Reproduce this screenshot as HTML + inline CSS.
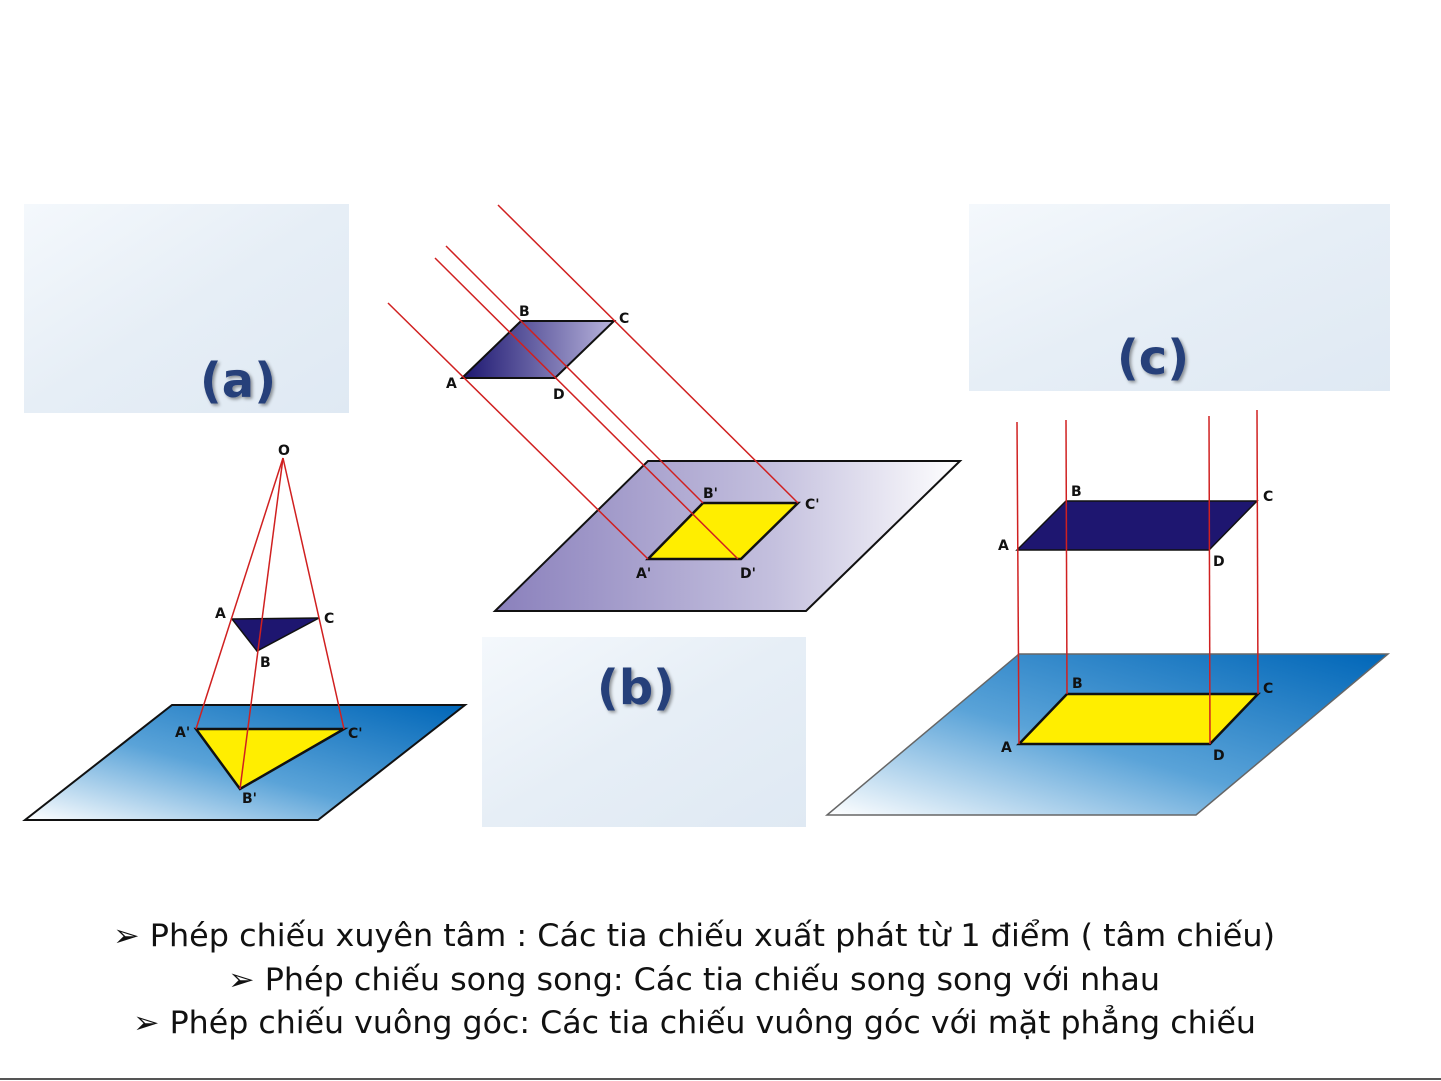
<!DOCTYPE html>
<html><head><meta charset="utf-8"><style>
html,body{margin:0;padding:0;background:#fff;width:1441px;height:1081px;overflow:hidden}
svg{display:block}
</style></head><body>
<svg width="1441" height="1081" viewBox="0 0 1441 1081" xmlns="http://www.w3.org/2000/svg">
<defs>
<linearGradient id="pan" x1="0" y1="0" x2="1" y2="1"><stop offset="0" stop-color="#f4f8fc"/><stop offset="0.5" stop-color="#e6eef6"/><stop offset="1" stop-color="#dfe9f3"/></linearGradient>
<linearGradient id="blue" x1="0" y1="1" x2="1" y2="0"><stop offset="0" stop-color="#ffffff"/><stop offset="0.45" stop-color="#5aa3d8"/><stop offset="1" stop-color="#0066b8"/></linearGradient>
<linearGradient id="purp" x1="0" y1="0.5" x2="1" y2="0.5"><stop offset="0" stop-color="#8a80bc"/><stop offset="0.6" stop-color="#c4c0de"/><stop offset="1" stop-color="#ffffff"/></linearGradient>
<linearGradient id="navy" x1="0" y1="0" x2="1" y2="0"><stop offset="0" stop-color="#1c1670"/><stop offset="1" stop-color="#b8b4dc"/></linearGradient>
<filter id="sh"><feDropShadow dx="2" dy="2" stdDeviation="1.5" flood-color="#000" flood-opacity="0.4"/></filter>
</defs>
<!-- label panels -->
<rect x="24" y="204" width="325" height="209" fill="url(#pan)"/>
<rect x="482" y="637" width="324" height="190" fill="url(#pan)"/>
<rect x="969" y="204" width="421" height="187" fill="url(#pan)"/>
<g font-family="DejaVu Sans, sans-serif" font-weight="bold" font-size="48" fill="#27407a" filter="url(#sh)" text-anchor="middle">
<text x="238" y="397">(a)</text>
<text x="636" y="704">(b)</text>
<text x="1153" y="374">(c)</text>
</g>
<g font-family="DejaVu Sans, sans-serif" font-weight="bold" font-size="14" fill="#111">
<!-- (a) -->
<polygon points="25,820 318,820 465,705 172,705" fill="url(#blue)" stroke="#111" stroke-width="2"/>
<polygon points="196,729 344,729 240,789" fill="#ffee00" stroke="#111" stroke-width="2.5"/>
<polygon points="232,619 319,618 257,651" fill="#1e1670" stroke="#111" stroke-width="1.5"/>
<g stroke="#d02020" stroke-width="1.5" fill="none">
<line x1="283" y1="458" x2="196" y2="729"/><line x1="283" y1="458" x2="240" y2="789"/><line x1="283" y1="458" x2="344" y2="729"/>
</g>
<text x="278" y="455">O</text><text x="215" y="618">A</text><text x="324" y="623">C</text><text x="260" y="667">B</text>
<text x="175" y="737">A'</text><text x="348" y="738">C'</text><text x="242" y="803">B'</text>
<!-- (b) -->
<polygon points="495,611 806,611 960,461 648,461" fill="url(#purp)" stroke="#111" stroke-width="2"/>
<polygon points="648,559 703,503 798,503 741,559" fill="#ffee00" stroke="#111" stroke-width="2.5"/>
<polygon points="462,378 521,321 614,321 555,378" fill="url(#navy)" stroke="#111" stroke-width="2"/>
<g stroke="#d02020" stroke-width="1.5" fill="none">
<line x1="388" y1="303" x2="648" y2="559"/><line x1="435" y1="258" x2="738" y2="559"/>
<line x1="446" y1="246" x2="703" y2="503"/><line x1="498" y1="205" x2="798" y2="503"/>
</g>
<text x="519" y="316">B</text><text x="619" y="323">C</text><text x="446" y="388">A</text><text x="553" y="399">D</text>
<text x="703" y="498">B'</text><text x="805" y="509">C'</text><text x="636" y="578">A'</text><text x="740" y="578">D'</text>
<!-- (c) -->
<polygon points="827,815 1196,815 1388,654 1019,654" fill="url(#blue)" stroke="#666" stroke-width="1.5"/>
<polygon points="1019,744 1210,744 1258,694 1067,694" fill="#ffee00" stroke="#111" stroke-width="2.5"/>
<polygon points="1017,550 1209,550 1257,501 1066,501" fill="#1e1670" stroke="#111" stroke-width="1.5"/>
<g stroke="#d02020" stroke-width="1.5" fill="none">
<line x1="1017" y1="422" x2="1019" y2="744"/><line x1="1066" y1="420" x2="1067" y2="694"/>
<line x1="1209" y1="416" x2="1210" y2="744"/><line x1="1257" y1="410" x2="1258" y2="694"/>
</g>
<text x="1071" y="496">B</text><text x="1263" y="501">C</text><text x="998" y="550">A</text><text x="1213" y="566">D</text>
<text x="1072" y="688">B</text><text x="1263" y="693">C</text><text x="1001" y="752">A</text><text x="1213" y="760">D</text>
</g>
<g font-family="DejaVu Sans, sans-serif" font-size="31" fill="#111">
<text x="113" y="946" textLength="1162" lengthAdjust="spacingAndGlyphs">➢ Phép chiếu xuyên tâm : Các tia chiếu xuất phát từ 1 điểm ( tâm chiếu)</text>
<text x="228" y="990" textLength="932" lengthAdjust="spacingAndGlyphs">➢ Phép chiếu song song: Các tia chiếu song song với nhau</text>
<text x="133" y="1033" textLength="1123" lengthAdjust="spacingAndGlyphs">➢ Phép chiếu vuông góc: Các tia chiếu vuông góc với mặt phẳng chiếu</text>
</g>
<line x1="0" y1="1079" x2="1441" y2="1079" stroke="#555" stroke-width="2"/>
</svg>
</body></html>
